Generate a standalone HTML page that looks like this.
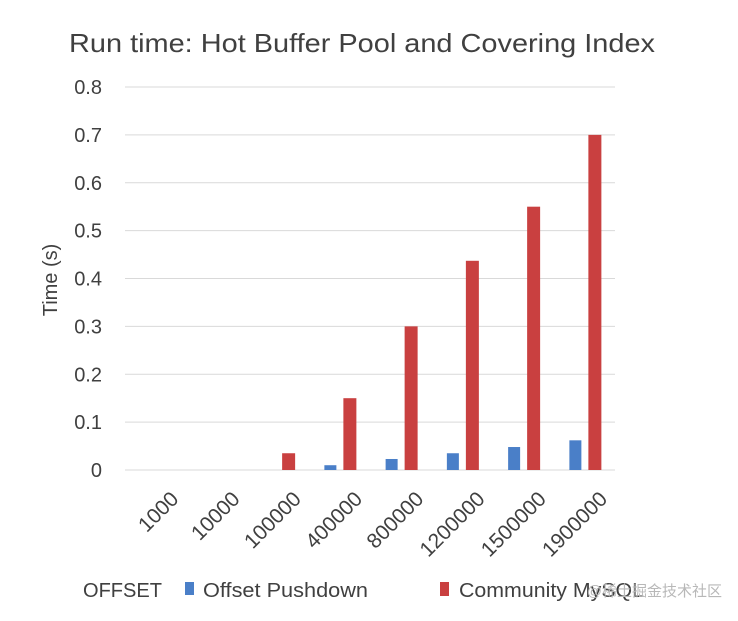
<!DOCTYPE html>
<html><head><meta charset="utf-8"><style>
body{margin:0;background:#fff;}
svg text{font-family:"Liberation Sans","Noto Sans CJK SC",sans-serif;fill:#404040;}
</style></head><body>
<svg width="738" height="616" viewBox="0 0 738 616">
<text x="362" y="52" font-size="26" text-anchor="middle" textLength="586" lengthAdjust="spacingAndGlyphs">Run time: Hot Buffer Pool and Covering Index</text>
<text transform="translate(57,280) rotate(-90)" font-size="20" text-anchor="middle">Time (s)</text>
<g id="grid"></g><g id="bars"></g><g id="xlabels"></g>
<text x="83" y="597" font-size="20" textLength="79" lengthAdjust="spacingAndGlyphs">OFFSET</text>
<rect x="185" y="582" width="9" height="13" fill="#4a7fc8"/>
<text x="203" y="597" font-size="20" textLength="165" lengthAdjust="spacingAndGlyphs">Offset Pushdown</text>
<rect x="440" y="582" width="9" height="14" fill="#c94040"/>
<text x="459" y="597" font-size="20" textLength="185" lengthAdjust="spacingAndGlyphs">Community MySQL</text>
<text x="722" y="596" font-size="15" text-anchor="end" style="fill:#b8b8b8">@稀土掘金技术社区</text>
</svg>
<script>
const categories=["1000","10000","100000","400000","800000","1200000","1500000","1900000"];
const pushdown=[0,0,0,0.01,0.023,0.035,0.048,0.062];
const community=[0,0,0.035,0.15,0.3,0.437,0.55,0.7];
const ticks=[0,0.1,0.2,0.3,0.4,0.5,0.6,0.7,0.8];
const NS="http://www.w3.org/2000/svg";
const x0=125,x1=615,yb=470,yt=87,ymax=0.8;
const y=v=>yb-(v/ymax)*(yb-yt);
const step=(x1-x0)/categories.length;
const cx=i=>x0+step*(i+0.5);
function mk(tag,attrs,parent){const e=document.createElementNS(NS,tag);for(const k in attrs)e.setAttribute(k,attrs[k]);document.getElementById(parent).appendChild(e);return e;}
ticks.forEach(t=>{
 const l=mk('line',{x1:x0,x2:x1,y1:y(t),y2:y(t),stroke:'#d9d9d9','stroke-width':1},'grid');
 
 
 const tx=mk('text',{x:102,y:y(t)+7,'font-size':20,'text-anchor':'end'},'grid');
 tx.textContent=String(t);
 
 
});
categories.forEach((c,i)=>{
 const b=mk('rect',{x:cx(i)-15,y:y(pushdown[i]),width:12,height:yb-y(pushdown[i]),fill:'#4a7fc8'},'bars');
 
 
 const r=mk('rect',{x:cx(i)+4,y:y(community[i]),width:13,height:yb-y(community[i]),fill:'#c94040'},'bars');
 
 
 const t=mk('text',{transform:`translate(${cx(i)+14},${490}) rotate(-45)`,'font-size':21,'text-anchor':'end','dominant-baseline':'hanging'},'xlabels');
 t.textContent=c;
 
 
});
</script>
</body></html>
